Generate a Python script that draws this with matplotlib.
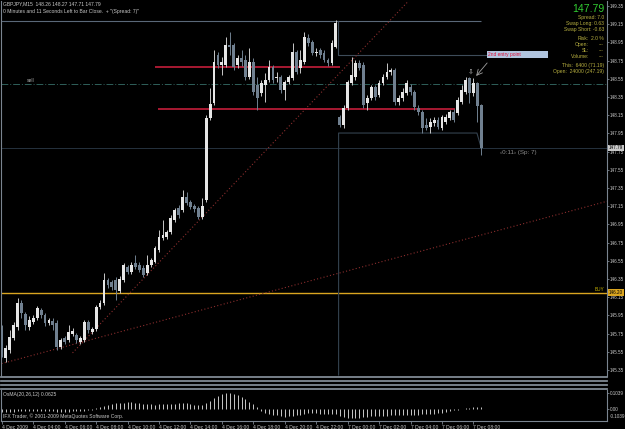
import matplotlib
matplotlib.use('Agg')
import matplotlib.pyplot as plt
from matplotlib.lines import Line2D
from matplotlib.patches import Rectangle
from matplotlib.transforms import blended_transform_factory
import numpy as np

# ---- data (GBPJPY M15, 4 Dec 2009 02:00 -> 7 Dec 2009 08:30) ----
opens = [145.79, 145.48, 145.57, 145.70, 145.82, 146.09, 145.97, 145.82, 145.88, 145.92,
         146.01, 145.95, 145.87, 145.89, 145.87, 145.60, 145.70, 145.68, 145.75, 145.73,
         145.66, 145.68, 145.88, 145.77, 145.80, 146.04, 146.09, 146.34, 146.32, 146.34,
         146.22, 146.34, 146.48, 146.43, 146.53, 146.50, 146.47, 146.42, 146.50, 146.54,
         146.67, 146.80, 146.81, 146.87, 147.00, 147.13, 147.11, 147.25, 147.20, 147.15,
         147.13, 147.03, 147.22, 148.12, 148.28, 148.81, 148.70, 148.70, 148.92, 148.92,
         148.70, 148.78, 148.76, 148.57, 148.73, 148.48, 148.39, 148.48, 148.54, 148.68,
         148.56, 148.57, 148.43, 148.52, 148.56, 148.85, 148.67, 148.74, 149.00, 148.95,
         148.83, 148.87, 148.83, 148.76, 148.72, 148.90, 148.13, 148.04, 148.23, 148.50,
         148.57, 148.72, 148.70, 148.28, 148.34, 148.46, 148.37, 148.50, 148.57, 148.63,
         148.65, 148.30, 148.34, 148.39, 148.46, 148.41, 148.23, 148.19, 148.04, 148.02,
         148.06, 148.10, 148.01, 148.08, 148.12, 148.19, 148.17, 148.30, 148.41, 148.56,
         148.39, 148.50, 148.26]
highs = [145.84, 145.62, 145.79, 145.88, 146.14, 146.12, 145.99, 145.94, 145.95, 146.05,
         146.03, 145.98, 145.92, 145.92, 145.90, 145.70, 145.72, 145.84, 145.81, 145.76,
         145.72, 145.90, 145.90, 145.82, 146.06, 146.12, 146.42, 146.36, 146.34, 146.37,
         146.38, 146.53, 146.50, 146.54, 146.61, 146.54, 146.50, 146.61, 146.58, 146.71,
         146.89, 147.00, 146.89, 147.05, 147.13, 147.16, 147.33, 147.31, 147.22, 147.17,
         147.15, 147.24, 148.15, 148.45, 148.87, 148.84, 148.79, 149.01, 149.06, 148.94,
         148.81, 148.87, 148.81, 148.89, 148.78, 148.57, 148.54, 148.61, 148.76, 148.70,
         148.63, 148.59, 148.54, 148.59, 148.94, 148.87, 148.87, 149.06, 149.04, 148.98,
         148.89, 148.89, 148.87, 148.78, 148.98, 149.20, 148.15, 148.26, 148.54, 148.79,
         148.76, 148.76, 148.74, 148.37, 148.48, 148.48, 148.54, 148.60, 148.72, 148.67,
         148.67, 148.37, 148.45, 148.54, 148.49, 148.43, 148.26, 148.21, 148.12, 148.12,
         148.13, 148.13, 148.15, 148.16, 148.21, 148.22, 148.35, 148.48, 148.57, 148.57,
         148.56, 148.51, 148.27]
lows = [145.49, 145.44, 145.54, 145.68, 145.79, 145.92, 145.79, 145.79, 145.86, 145.90,
        145.92, 145.83, 145.84, 145.79, 145.57, 145.58, 145.64, 145.66, 145.72, 145.65,
        145.64, 145.66, 145.76, 145.75, 145.78, 146.02, 146.06, 146.25, 146.23, 146.12,
        146.20, 146.32, 146.41, 146.41, 146.46, 146.43, 146.37, 146.39, 146.48, 146.53,
        146.65, 146.78, 146.79, 146.84, 146.98, 147.02, 147.09, 147.16, 147.12, 147.09,
        147.01, 147.01, 147.20, 148.10, 148.26, 148.67, 148.59, 148.68, 148.81, 148.65,
        148.67, 148.69, 148.54, 148.55, 148.37, 148.21, 148.36, 148.30, 148.52, 148.50,
        148.52, 148.39, 148.32, 148.49, 148.54, 148.60, 148.61, 148.71, 148.91, 148.81,
        148.80, 148.78, 148.74, 148.69, 148.70, 148.89, 148.02, 148.01, 148.21, 148.48,
        148.54, 148.65, 148.23, 148.21, 148.32, 148.32, 148.35, 148.48, 148.55, 148.59,
        148.26, 148.26, 148.31, 148.37, 148.37, 148.21, 148.15, 147.95, 147.99, 147.95,
        148.03, 148.00, 147.99, 148.05, 148.10, 148.08, 148.15, 148.27, 148.38, 148.28,
        148.36, 148.08, 147.71]
closes = [145.57, 145.59, 145.71, 145.84, 146.09, 145.98, 145.84, 145.90, 145.92, 146.03,
          145.95, 145.87, 145.90, 145.84, 145.60, 145.68, 145.66, 145.77, 145.78, 145.68,
          145.70, 145.88, 145.79, 145.80, 146.04, 146.09, 146.34, 146.28, 146.26, 146.23,
          146.35, 146.50, 146.43, 146.50, 146.48, 146.45, 146.39, 146.50, 146.56, 146.69,
          146.81, 146.83, 146.87, 147.02, 147.11, 147.05, 147.25, 147.19, 147.14, 147.12,
          147.03, 147.15, 148.12, 148.27, 148.73, 148.70, 148.73, 148.92, 148.90, 148.68,
          148.78, 148.73, 148.57, 148.73, 148.41, 148.34, 148.50, 148.54, 148.68, 148.54,
          148.57, 148.43, 148.52, 148.57, 148.85, 148.63, 148.76, 149.01, 148.94, 148.83,
          148.85, 148.81, 148.76, 148.72, 148.94, 149.16, 148.04, 148.23, 148.52, 148.59,
          148.72, 148.67, 148.26, 148.34, 148.46, 148.35, 148.50, 148.57, 148.63, 148.65,
          148.30, 148.34, 148.41, 148.50, 148.41, 148.24, 148.19, 148.01, 148.01, 148.08,
          148.10, 148.02, 148.13, 148.13, 148.19, 148.10, 148.32, 148.43, 148.54, 148.39,
          148.50, 148.25, 147.79]
osma = [-0.020, -0.022, -0.020, -0.018, -0.012, -0.010, -0.012, -0.013, -0.012, -0.010,
        -0.010, -0.012, -0.013, -0.014, -0.018, -0.020, -0.019, -0.017, -0.016, -0.016,
        -0.015, -0.010, -0.008, -0.004, 0.005, 0.015, 0.022, 0.027, 0.033, 0.037,
        0.040, 0.042, 0.044, 0.044, 0.042, 0.036, 0.032, 0.031, 0.030, 0.029,
        0.030, 0.030, 0.031, 0.032, 0.035, 0.037, 0.038, 0.037, 0.033, 0.027,
        0.024, 0.026, 0.041, 0.055, 0.072, 0.085, 0.096, 0.101, 0.103, 0.100,
        0.092, 0.080, 0.066, 0.048, 0.030, 0.010, -0.012, -0.024, -0.032, -0.037,
        -0.040, -0.045, -0.049, -0.048, -0.046, -0.042, -0.036, -0.030, -0.028, -0.028,
        -0.028, -0.030, -0.031, -0.032, -0.031, -0.030, -0.045, -0.055, -0.060, -0.060,
        -0.058, -0.056, -0.055, -0.050, -0.048, -0.047, -0.046, -0.045, -0.044, -0.042,
        -0.042, -0.041, -0.040, -0.039, -0.038, -0.038, -0.036, -0.035, -0.034, -0.032,
        -0.030, -0.028, -0.024, -0.018, -0.012, -0.008, -0.004, 0.001, 0.004, 0.008,
        0.010, 0.011, 0.010]

time_labels = ['4 Dec 2009', '4 Dec 04:00', '4 Dec 06:00', '4 Dec 08:00', '4 Dec 10:00',
               '4 Dec 12:00', '4 Dec 14:00', '4 Dec 16:00', '4 Dec 18:00', '4 Dec 20:00',
               '4 Dec 22:00', '7 Dec 00:00', '7 Dec 02:00', '7 Dec 04:00', '7 Dec 06:00',
               '7 Dec 08:00']
bars_per_label = 8

price_ticks = np.round(np.arange(145.35, 149.36, 0.2), 2)
bid = 147.79
buy_level = 146.20
sell_level = 148.493
resist_hi = 149.185          # grey level across the chart
red_lvl_1 = (148.680, 39.0, 86.1)   # price, from bar, to bar
red_lvl_2 = (148.218, 39.8, 115.3)
chan_up_x = [85.5, 85.5, 123.2]
chan_up_y = [149.185, 148.812, 148.812]
chan_lo_x = [85.7, 85.7, 120.9, 122.0]
chan_lo_y = [145.295, 147.954, 147.954, 147.79]
trend_slow_x = [-0.08, 154.0]
trend_slow_y = [145.420, 147.204]
trend_fast_x = [18.0, 103.5]
trend_fast_y = [145.538, 149.405]

# ---- figure ----
W, H = 625, 429
BG = '#000000'
FG = '#C8C8C8'
AXC = '#7A8490'
plt.rcParams['font.family'] = ['Liberation Sans', 'DejaVu Sans']

fig = plt.figure(figsize=(W / 100, H / 100), dpi=100, facecolor=BG)


def px_rect(x0, y0, x1, y1):
    return [x0 / W, 1 - y1 / H, (x1 - x0) / W, (y1 - y0) / H]


n = len(closes)
xs = np.arange(n)
xlim = (-0.08, 154.0)

ax = fig.add_axes(px_rect(1.5, 1, 607, 376), facecolor=BG)
ax.set_xlim(*xlim)
ax.set_ylim(145.284, 149.405)

# levels and trendlines
ax.axhline(bid, color='#26323E', lw=0.7, zorder=1)
ax.axhline(sell_level, color='#2F5F5A', lw=0.7, ls=(0, (7, 2, 1, 2)), zorder=1)
ax.axhline(buy_level, color='#DAA520', lw=1.0, zorder=1)
ax.hlines(resist_hi, xlim[0], 122.0, color='#5A6878', lw=0.8, zorder=1)
ax.plot(chan_up_x, chan_up_y, color='#3E4C5A', lw=0.8, zorder=1)
ax.plot(chan_lo_x, chan_lo_y, color='#34424F', lw=0.8, zorder=1)
ax.plot(trend_slow_x, trend_slow_y, color='#8B2E2E', lw=0.8, ls=(0, (1, 2)), zorder=1)
ax.plot(trend_fast_x, trend_fast_y, color='#8B2E2E', lw=0.8, ls=(0, (1, 2)), zorder=1)
for lvl, x0, x1 in (red_lvl_1, red_lvl_2):
    ax.hlines(lvl, x0, x1, color='#C41E3A', lw=1.2, zorder=2)

# candles
o = np.array(opens)
c = np.array(closes)
up = c >= o
ax.vlines(xs[up], np.array(lows)[up], np.array(highs)[up], color='#C8C8C8', lw=0.7, zorder=3)
ax.vlines(xs[~up], np.array(lows)[~up], np.array(highs)[~up], color='#708090', lw=0.7, zorder=3)
body = np.maximum(np.abs(c - o), 0.008)
ax.bar(xs[up], body[up], bottom=np.minimum(o, c)[up], width=0.72, color='#E6E6E6', lw=0, zorder=4)
ax.bar(xs[~up], body[~up], bottom=np.minimum(o, c)[~up], width=0.72, color='#708090', lw=0, zorder=4)

# annotations on the chart
ax.text(6.4, 148.526, 'sell', fontsize=3.6, color='#B0B0B0', va='center', ha='left')
ax.add_patch(Rectangle((123.5, 148.779), 15.5, 0.077, fc='#B0C4DE', ec='none', zorder=5))
ax.text(123.8, 148.817, '2nd entry point', fontsize=3.5, color='#E0103A', va='center',
        ha='left', zorder=6)
ax.annotate('', xy=(120.7, 148.581), xytext=(123.5, 148.724),
            arrowprops=dict(arrowstyle='->', color='#A0A0A0', lw=0.6, shrinkA=0, shrinkB=0))
ax.text(119.4, 148.625, '\u21e9', fontsize=5, color='#C0C0C0', ha='center', va='center')
ax.text(126.8, 147.735, '\u20390:11\u203a (Sp: 7)', fontsize=4.5, color='#8C8C8C',
        ha='left', va='center')

# price axis
ax.yaxis.tick_right()
ax.set_yticks(price_ticks)
ax.set_yticklabels([f'{p:.2f}' for p in price_ticks])
ax.tick_params(axis='y', colors=FG, labelsize=3.3, length=1.5, width=0.6, pad=0.4)
ax.tick_params(axis='y', color=AXC)
ax.set_xticks([])
for s in ('top', 'bottom'):
    ax.spines[s].set_visible(False)
for s in ('left', 'right'):
    ax.spines[s].set_color(AXC)
    ax.spines[s].set_linewidth(0.8)

tr = blended_transform_factory(ax.transAxes, ax.transData)
ax.text(1.003, bid, f'{bid:.2f}', transform=tr, fontsize=3.3, color='black', va='center',
        ha='left', zorder=7, bbox=dict(boxstyle='square,pad=0.2', fc='#C8C8C8', ec='none'))
ax.text(1.003, buy_level, f'{buy_level:.2f}', transform=tr, fontsize=3.3, color='black',
        va='center', ha='left', zorder=7,
        bbox=dict(boxstyle='square,pad=0.2', fc='#DAA520', ec='none'))
ax.text(0.995, buy_level + 0.03, 'BUY', transform=tr, fontsize=3.4, color='#C8B400',
        va='center', ha='right')

# separators of the empty sub-windows
for yy in (376.5, 381, 385, 389):
    fig.add_artist(Line2D([1.5 / W, 607 / W], [1 - yy / H] * 2, color='#808A94', lw=1.3))

# OsMA window
ax2 = fig.add_axes(px_rect(1.5, 390, 607, 421), facecolor=BG)
ax2.set_xlim(*xlim)
ax2.set_ylim(-0.078, 0.1235)
ax2.vlines(xs, 0, osma, color='#C8C8C8', lw=0.7)
ax2.yaxis.tick_right()
ax2.set_yticks([0.1039, 0.0])
ax2.set_yticklabels(['0.1039', '0.00'])
ax2.tick_params(axis='y', colors=FG, labelsize=3.3, length=1.5, width=0.6, pad=0.4)
ax2.tick_params(axis='y', color=AXC)
ax2.text(1.004, 0.13, '-0.1039', transform=ax2.transAxes, fontsize=3.3, color=FG,
         va='center', ha='left')
tick_pos = np.arange(len(time_labels)) * bars_per_label
ax2.set_xticks(tick_pos)
ax2.set_xticklabels(time_labels, ha='left')
ax2.tick_params(axis='x', colors=FG, labelsize=3.6, length=2, width=0.6, pad=1)
ax2.tick_params(axis='x', color=AXC)
ax2.spines['top'].set_visible(False)
for s in ('left', 'right', 'bottom'):
    ax2.spines[s].set_color(AXC)
    ax2.spines[s].set_linewidth(0.8)
ax2.text(0.003, 0.84, 'OsMA(20,26,12) 0.0625', transform=ax2.transAxes, fontsize=3.6,
         color=FG, va='center')
ax2.text(0.003, 0.16, 'IFX Trader, \u00a9 2001-2009 MetaQuotes Software Corp.',
         transform=ax2.transAxes, fontsize=3.6, color=FG, va='center')

# header text
fig.text(3 / W, 1 - 4 / H, 'GBPJPY,M15  148.26 148.27 147.71 147.79', fontsize=3.6,
         color=FG, va='center')
fig.text(3 / W, 1 - 11 / H, '0 Minutes and 11 Seconds Left to Bar Close.  + "(Spread: 7)"',
         fontsize=3.6, color=FG, va='center')

# info panel top right
fig.text(604 / W, 1 - 9 / H, f'{bid:.2f}', fontsize=7.6, color='#32CD32', va='center',
         ha='right')
panel = [('Spread: 7.0', 17.3), ('Swap Long: 0.63', 23.7), ('Swap Short: -0.63', 29.7),
         ('This:  6400 (71.19)', 65), ('Open:  24000 (247.19)', 71)]
for txt, yy in panel:
    fig.text(604 / W, 1 - yy / H, txt, fontsize=3.6, color='#B8B040', va='center', ha='right')
panel2 = [('Risk:', '2.0 %', 38.7), ('Open:', '---', 44.7), ('SL:', '---', 51),
          ('Volume:', '---', 57)]
for lab, val, yy in panel2:
    fig.text(589 / W, 1 - yy / H, lab, fontsize=3.6, color='#B8B040', va='center', ha='right')
    fig.text(604 / W, 1 - yy / H, val, fontsize=3.6, color='#B8B040', va='center', ha='right')

fig.savefig('out.png', dpi=100, facecolor=BG)
